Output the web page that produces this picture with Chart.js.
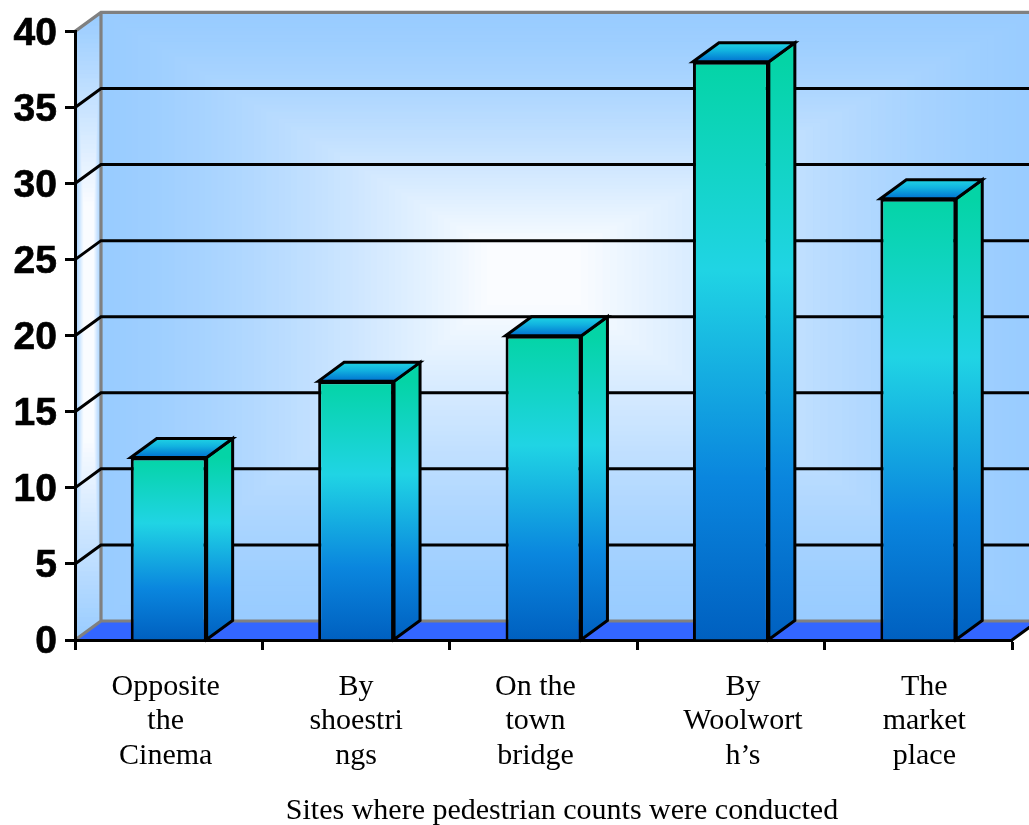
<!DOCTYPE html>
<html>
<head>
<meta charset="utf-8">
<title>Pedestrian counts</title>
<script src="https://cdn.jsdelivr.net/npm/chart.js@4"></script>
<style>
  html, body { margin: 0; padding: 0; background: #fff; overflow: hidden; }
  canvas { display: block; }
</style>
</head>
<body>
<canvas id="sitesChart" width="1029" height="825"></canvas>
<script>
const siteLabels = [
  ["Opposite", "the", "Cinema"],
  ["By", "shoestri", "ngs"],
  ["On the", "town", "bridge"],
  ["By", "Woolwort", "h\u2019s"],
  ["The", "market", "place"],
];
const pedestrianCounts = [12, 17, 20, 38, 29];
const axisTitle = "Sites where pedestrian counts were conducted";

// the labels in the original sit slightly off the bar centres
const labelShift = [-3, 0, -8, 12, 6];
const depthX = 26;
const depthY = -19;

function mix(a, b, t) {
  return a.map((v, i) => Math.round(v + (b[i] - v) * t));
}

function barGradient(ctx, top, bottom) {
  const g = ctx.createLinearGradient(0, top, 0, bottom);
  g.addColorStop(0, "#04D4A6");
  g.addColorStop(0.36, "#20D4E4");
  g.addColorStop(0.72, "#0A86DE");
  g.addColorStop(1, "#0060C0");
  return g;
}

function poly(ctx, pts) {
  ctx.beginPath();
  pts.forEach((p, i) => (i ? ctx.lineTo(p[0], p[1]) : ctx.moveTo(p[0], p[1])));
  ctx.closePath();
}

// nested rectangles closing in on a centre point, like a "from centre" fill
function pathFill(ctx, x0, y0, x1, y1, cx, cy, reach, curve) {
  const edge = [153, 204, 255], centre = [250, 252, 255];
  const steps = 70;
  for (let i = 0; i <= steps; i++) {
    const t = i / steps;
    const c = mix(edge, centre, Math.pow(Math.min(1, t / reach), curve));
    ctx.fillStyle = "rgb(" + c.join(",") + ")";
    const l = x0 + (cx - x0) * t, r = x1 + (cx - x1) * t;
    const u = y0 + (cy - y0) * t, d = y1 + (cy - y1) * t;
    ctx.fillRect(l, u, r - l, d - u);
  }
}

const boxPlugin = {
  id: "box",
  beforeDraw(chart) {
    const ctx = chart.ctx;
    const area = chart.chartArea;
    const left = area.left, right = area.right, top = area.top, bottom = area.bottom;
    const backL = left + depthX, backR = right + depthX;
    const backT = top + depthY, backB = bottom + depthY;

    ctx.save();
    pathFill(ctx, backL, backT, backR, backB, 530, 270, 0.9, 1.4);

    // side wall
    ctx.save();
    poly(ctx, [[left, top], [backL, backT], [backL, backB], [left, bottom]]);
    ctx.clip();
    pathFill(ctx, left, backT, backL, bottom, left + 14, 320, 0.62, 1);
    ctx.restore();

    // floor
    ctx.fillStyle = "#3366FF";
    poly(ctx, [[left, bottom], [backL, backB], [backR, backB], [right, bottom]]);
    ctx.fill();

    // grey frame
    ctx.strokeStyle = "#808080";
    ctx.lineWidth = 3.2;
    ctx.beginPath();
    ctx.moveTo(left, top);
    ctx.lineTo(backL, backT);
    ctx.lineTo(backR, backT);
    ctx.moveTo(backL, backT);
    ctx.lineTo(backL, backB);
    ctx.lineTo(backR, backB);
    ctx.moveTo(backL, backB);
    ctx.lineTo(left, bottom);
    ctx.stroke();

    // grid lines on the walls
    const yScale = chart.scales.y;
    ctx.strokeStyle = "#000";
    ctx.lineWidth = 3;
    ctx.beginPath();
    yScale.ticks.forEach((tick) => {
      if (tick.value === yScale.min || tick.value === yScale.max) return;
      const y = yScale.getPixelForValue(tick.value);
      ctx.moveTo(left, y);
      ctx.lineTo(backL, y + depthY);
      ctx.lineTo(backR, y + depthY);
    });
    ctx.moveTo(right, bottom);
    ctx.lineTo(backR, backB);
    ctx.stroke();
    ctx.restore();
  },
  beforeDatasetsDraw(chart) {
    const ctx = chart.ctx;
    ctx.save();
    // side and top of every bar
    chart.getDatasetMeta(0).data.forEach((bar) => {
      const l = bar.x - bar.width / 2, r = bar.x + bar.width / 2;
      const t = bar.y, b = bar.base;
      ctx.lineWidth = 3;
      ctx.strokeStyle = "#000";
      ctx.lineJoin = "miter";

      ctx.fillStyle = barGradient(ctx, t, b);
      poly(ctx, [[r, t], [r + depthX, t + depthY], [r + depthX, b + depthY], [r, b]]);
      ctx.fill();
      ctx.stroke();

      const lid = ctx.createLinearGradient(0, t + depthY, 0, t);
      lid.addColorStop(0, "#20D4E4");
      lid.addColorStop(0.4, "#12B4E0");
      lid.addColorStop(1, "#0070D0");
      ctx.fillStyle = lid;
      poly(ctx, [[l, t], [l + depthX, t + depthY], [r + depthX, t + depthY], [r, t]]);
      ctx.fill();
      ctx.stroke();
    });
    ctx.restore();
  },
  afterDraw(chart) {
    const ctx = chart.ctx;
    const xScale = chart.scales.x;
    ctx.save();
    ctx.fillStyle = "#000";
    ctx.font = '30px "Liberation Serif"';
    ctx.textAlign = "center";
    ctx.textBaseline = "middle";
    siteLabels.forEach((lines, i) => {
      const x = xScale.getPixelForValue(i) + labelShift[i];
      lines.forEach((line, n) => ctx.fillText(line, x, 687 + n * 34.5));
    });
    ctx.fillText(axisTitle, 562, 811);
    ctx.restore();
  },
};

new Chart(document.getElementById("sitesChart").getContext("2d"), {
  type: "bar",
  data: {
    labels: siteLabels,
    datasets: [
      {
        data: pedestrianCounts,
        backgroundColor: (c) => {
          const area = c.chart.chartArea;
          if (!area) return "#20D4E4";
          return barGradient(c.chart.ctx, c.chart.scales.y.getPixelForValue(pedestrianCounts[c.dataIndex]), area.bottom);
        },
        borderColor: "#000",
        borderWidth: 3,
        barPercentage: 0.405,
        categoryPercentage: 1,
      },
    ],
  },
  options: {
    responsive: false,
    animation: false,
    layout: { padding: { top: 30, right: 17, left: 0, bottom: 0 } },
    plugins: { legend: { display: false }, tooltip: { enabled: false } },
    scales: {
      x: {
        afterFit: (s) => { s.height = 185; },
        grid: { drawOnChartArea: false, drawTicks: true, tickLength: 10, tickColor: "#000", tickWidth: 3 },
        border: { color: "#000", width: 3 },
        ticks: { display: false },
      },
      y: {
        min: 0,
        max: 40,
        afterFit: (s) => { s.width = 75; },
        grid: { drawOnChartArea: false, drawTicks: true, tickLength: 10, tickColor: "#000", tickWidth: 3 },
        border: { color: "#000", width: 3 },
        ticks: {
          stepSize: 5,
          padding: 8,
          labelOffset: 2.5,
          color: "#000",
          textStrokeColor: "#000",
          textStrokeWidth: 0.7,
          font: { family: '"Liberation Sans"', size: 39, weight: "bold" },
        },
      },
    },
  },
  plugins: [boxPlugin],
});
</script>
</body>
</html>
